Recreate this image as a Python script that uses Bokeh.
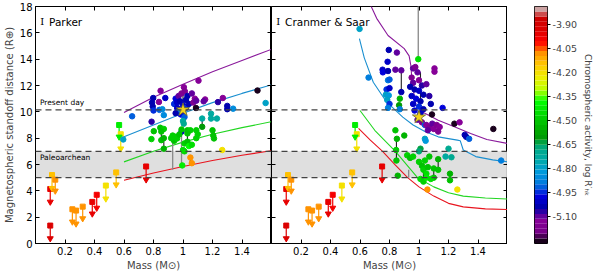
import numpy as np
from bokeh.plotting import figure
from bokeh.layouts import row
from bokeh.models import (ColumnDataSource, LinearColorMapper, FixedTicker, Span,
                          BoxAnnotation, Label, LinearAxis, PrintfTickFormatter, Range1d)
from bokeh.transform import transform
from bokeh.embed import file_html
from bokeh.resources import INLINE

# ---------------- data ----------------
x_ticks = [0.2, 0.4, 0.6, 0.8, 1.0, 1.2, 1.4]
y_ticks = [0, 2, 4, 6, 8, 10, 12, 14, 16, 18]
cbar_ticks = [-3.90, -4.05, -4.20, -4.35, -4.50, -4.65, -4.80, -4.95, -5.10]
act_low, act_high = -5.27, -3.79
present_day = 10.15
paleo_low, paleo_high = 5.0, 7.0

# Parker panel: stars (circles)
pk_mass = [0.848, 0.798, 0.837, 0.88, 0.79, 0.795, 0.655, 0.80, 0.84, 0.86, 0.787, 0.87, 0.94, 0.95, 0.96, 0.595,
           0.97, 0.98, 0.99, 1.0, 1.006, 1.013, 1.02, 1.03, 0.96, 1.0, 1.02, 0.985, 1.04, 0.97, 1.01, 0.95,
           1.105, 1.06, 1.08, 1.07, 1.09, 1.27, 1.15, 1.14, 1.237, 1.505, 1.30, 1.30, 1.34, 1.56, 1.19, 1.19,
           1.23, 1.088, 1.0, 1.005, 1.13, 1.13, 0.99, 0.802, 0.846, 0.87, 0.853, 0.853, 0.786, 0.93, 0.94, 0.95,
           0.87, 0.87, 0.92, 1.01, 1.0, 1.01, 1.03, 1.05, 1.09, 0.99, 0.96, 0.975, 1.03, 1.03, 1.09, 1.2,
           1.205, 1.21, 1.04, 1.06, 1.1, 0.995, 1.05, 1.06, 1.266]
pk_r = [11.6, 11.05, 10.75, 11.05, 10.7, 10.4, 9.66, 10.1, 10.15, 10.2, 9.25, 9.75, 10.6, 11.0, 10.7, 7.9,
        11.2, 10.8, 11.4, 10.5, 11.87, 11.55, 10.9, 11.2, 10.3, 10.0, 10.3, 9.8, 10.6, 10.0, 9.6, 9.9,
        12.37, 11.4, 11.0, 10.7, 10.85, 11.05, 10.94, 10.8, 10.74, 11.62, 10.45, 10.2, 10.24, 10.67, 9.86, 9.49,
        9.49, 10.29, 9.3, 9.1, 9.49, 8.86, 8.49, 8.53, 8.79, 8.7, 8.5, 7.85, 7.93, 8.2, 7.8, 8.1,
        8.0, 7.2, 8.0, 7.0, 7.1, 7.6, 8.6, 8.6, 8.6, 8.66, 7.98, 8.28, 8.36, 7.73, 8.0, 8.6,
        8.2, 7.98, 7.4, 7.5, 8.3, 5.93, 6.53, 6.1, 7.1]
pk_act = [-5.14, -5.04, -5.14, -5.0, -5.04, -5.04, -4.92, -4.95, -4.92, -4.85, -5.06, -4.85, -4.95, -4.97, -5.0, -4.8,
          -5.1, -5.04, -5.15, -5.0, -5.14, -5.15, -5.04, -5.04, -5.0, -5.0, -4.95, -4.98, -5.04, -4.85, -4.92, -5.04,
          -5.14, -5.1, -5.14, -5.15, -5.1, -5.14, -5.14, -5.1, -5.06, -5.24, -5.04, -5.04, -4.85, -4.8, -4.72, -4.72,
          -4.72, -5.24, -4.72, -4.7, -4.72, -4.6, -5.0, -4.5, -4.5, -4.48, -4.52, -4.52, -4.48, -4.47, -4.5, -4.48,
          -4.55, -4.55, -4.47, -4.47, -4.44, -4.48, -4.5, -4.47, -4.48, -4.5, -4.47, -4.5, -4.52, -4.5, -4.47, -4.52,
          -4.5, -4.5, -4.4, -4.44, -4.47, -4.42, -4.08, -4.08, -4.2]

# Cranmer & Saar panel: stars (circles)
cs_mass = [0.597, 0.658, 0.795, 0.85, 0.787, 0.753, 0.755, 0.79, 0.84, 0.88, 0.88, 0.79, 0.80, 0.78, 0.80, 0.775,
           0.795, 0.785, 0.80, 0.79, 0.87, 0.865, 0.87, 0.995, 0.96, 0.975, 0.99, 0.95, 0.96, 1.0, 1.02, 0.94,
           0.97, 1.0, 1.03, 0.95, 0.98, 1.01, 0.96, 1.0, 1.03, 0.97, 1.01, 0.99, 1.02, 1.04, 1.105, 1.105,
           1.05, 1.07, 1.08, 1.16, 1.088, 1.05, 1.07, 1.09, 1.10, 1.12, 1.14, 1.06, 1.13, 1.24, 1.275, 1.504,
           1.31, 1.32, 1.34, 1.04, 1.045, 1.2, 1.22, 1.18, 1.01, 1.0, 0.9, 0.84, 0.85, 0.847, 0.845, 0.856,
           0.92, 0.94, 0.96, 1.0, 1.02, 1.04, 1.03, 1.05, 1.06, 1.07, 1.01, 1.03, 1.05, 1.1, 1.1, 1.13,
           1.13, 1.08, 1.21, 1.21, 1.26, 1.057, 1.557]
cs_r = [16.3, 12.6, 14.7, 14.5, 13.8, 13.2, 13.0, 13.1, 13.2, 13.15, 11.5, 12.4, 12.45, 11.7, 11.8, 11.3,
        11.25, 10.9, 10.6, 10.3, 11.0, 10.5, 10.2, 14.0, 13.3, 13.4, 13.0, 12.6, 12.2, 12.4, 12.0, 11.9,
        11.7, 11.6, 11.3, 11.2, 11.0, 10.8, 10.6, 10.4, 10.2, 10.1, 9.9, 9.4, 9.2, 9.0, 13.3, 13.05,
        12.1, 11.2, 10.6, 10.3, 9.8, 9.0, 8.8, 9.1, 8.7, 9.0, 8.85, 8.6, 8.5, 9.1, 9.2, 8.7,
        8.25, 8.1, 7.95, 7.95, 7.8, 7.2, 6.55, 6.6, 7.2, 7.0, 8.2, 8.6, 7.95, 6.3, 7.1, 5.15,
        6.7, 6.5, 6.6, 6.2, 5.9, 6.3, 5.6, 5.3, 5.8, 6.6, 4.9, 4.7, 5.0, 5.7, 5.0, 6.4,
        5.6, 4.9, 5.3, 4.8, 4.1, 4.1, 6.3]
cs_act = [-4.8, -4.88, -5.04, -5.1, -5.0, -5.0, -4.98, -5.04, -5.1, -5.1, -5.04, -4.88, -4.92, -4.95, -5.0, -4.8,
          -4.83, -4.8, -4.95, -4.88, -4.55, -4.62, -4.88, -4.45, -5.1, -5.15, -5.1, -5.15, -5.1, -5.14, -5.06, -5.03,
          -5.04, -5.0, -5.04, -5.0, -4.98, -5.04, -5.0, -4.95, -5.04, -4.97, -5.0, -5.1, -5.15, -4.92, -5.14, -5.14,
          -5.1, -5.06, -5.04, -4.98, -5.24, -5.14, -5.15, -5.1, -5.14, -5.15, -5.14, -5.1, -5.15, -5.24, -5.14, -5.24,
          -5.04, -5.04, -4.92, -4.8, -4.82, -4.7, -4.7, -4.72, -4.65, -4.68, -4.55, -4.52, -4.55, -4.5, -4.48, -4.55,
          -4.47, -4.5, -4.47, -4.47, -4.5, -4.48, -4.47, -4.44, -4.5, -4.52, -4.44, -4.47, -4.42, -4.5, -4.52, -4.55,
          -4.52, -4.44, -4.55, -4.52, -4.2, -4.08, -4.88]

# upper limits (M dwarfs), same in both panels
ul_mass = [0.10, 0.10, 0.112, 0.134, 0.25, 0.275, 0.32, 0.385, 0.415, 0.477, 0.547, 0.567, 0.578, 0.75]
ul_top = [4.14, 1.36, 5.2, 4.85, 2.6, 2.5, 2.8, 3.16, 3.7, 4.4, 5.4, 9.0, 8.3, 5.85]
ul_bot = [3.16, 0.38, 4.2, 4.0, 1.65, 1.5, 1.9, 2.26, 2.7, 3.4, 4.47, 8.1, 7.2, 4.85]
ul_act = [-3.95, -3.93, -4.13, -4.08, -4.07, -4.08, -4.08, -3.95, -4.0, -4.22, -4.13, -4.42, -4.2, -3.95]

# vertical links between measurements of the same star
pk_link_m = [0.79, 0.853, 0.87, 1.03, 1.13, 1.21, 1.30, 1.05, 1.0]
pk_link_lo = [10.4, 7.85, 7.2, 7.73, 8.86, 7.98, 10.2, 6.1, 10.5]
pk_link_hi = [11.05, 8.5, 8.0, 8.36, 9.49, 8.6, 10.45, 6.53, 11.87]
pk_grey_m = [0.93, 0.99]
pk_grey_lo = [5.6, 5.93]
pk_grey_hi = [8.4, 8.49]
cs_link_m = [0.88, 0.847, 1.105, 1.03, 1.13, 1.21, 1.1, 1.01]
cs_link_lo = [11.5, 6.3, 13.05, 4.7, 5.6, 4.8, 5.0, 10.4]
cs_link_hi = [13.15, 7.95, 13.3, 5.6, 6.4, 5.3, 5.7, 13.0]
cs_grey_m = [0.995, 0.93]
cs_grey_lo = [14.0, 5.0]
cs_grey_hi = [19.0, 5.6]

# the Sun
sun_mass = [1.0]
pk_sun_r = [10.15]
cs_sun_r = [9.6]

# model curves
pk_curve_m = [0.6, 0.8, 1.0, 1.2, 1.4, 1.6]
pk_purple = [9.95, 11.1, 12.1, 13.05, 13.9, 14.75]
pk_blue = [8.1, 9.0, 9.9, 10.7, 11.4, 12.05]
pk_green = [6.2, 7.0, 7.7, 8.3, 8.8, 9.25]
pk_red = [4.8, 5.35, 5.85, 6.3, 6.7, 7.05]

cs_purple_m = [0.66, 0.676, 0.713, 0.79, 0.9, 0.933, 0.945, 0.955, 0.98, 1.02, 1.13, 1.24, 1.35, 1.46, 1.6]
cs_purple_r = [18.6, 18.0, 17.1, 15.8, 14.8, 14.25, 13.5, 12.0, 10.5, 10.0, 9.36, 8.86, 8.36, 7.9, 7.6]
cs_blue_m = [0.596, 0.629, 0.69, 0.78, 0.89, 0.96, 1.04, 1.13, 1.26, 1.28, 1.30, 1.385, 1.5, 1.6]
cs_blue_r = [15.56, 14.1, 12.25, 10.75, 9.6, 9.0, 8.5, 8.1, 7.85, 7.8, 7.1, 6.6, 6.35, 6.2]
cs_green_m = [0.6, 0.7, 0.84, 0.99, 1.1, 1.2, 1.3, 1.45, 1.6]
cs_green_r = [10.1, 8.6, 7.0, 5.0, 4.3, 3.85, 3.6, 3.45, 3.38]
cs_red_m = [0.59, 0.67, 0.753, 0.84, 0.923, 1.0, 1.1, 1.2, 1.3, 1.45, 1.6]
cs_red_r = [8.75, 7.85, 7.0, 5.95, 5.0, 4.3, 3.6, 3.05, 2.78, 2.63, 2.58]

curve_colors = {"purple": "#8a1a9b", "blue": "#1a8fd0", "green": "#22d622", "red": "#e8141e"}

# ---------------- colormap (nipy_spectral) ----------------
_pos = np.linspace(0, 1, 21)
_R = [0, .4667, .5333, 0, 0, 0, 0, 0, 0, 0, 0, 0, 0, .7333, .9333, 1, 1, 1, .8667, .8, .8]
_G = [0, 0, 0, 0, 0, .4667, .6, .6667, .6667, .6, .7333, .8667, 1, 1, .9333, .8, .6, 0, 0, 0, .8]
_B = [0, .5333, .6, .6667, .8667, .8667, .8667, .6667, .5333, 0, 0, 0, 0, 0, 0, 0, 0, 0, 0, 0, .8]
NC = 48
_s = (np.arange(NC) + 0.5) / NC
palette = ["#%02x%02x%02x" % (int(round(255 * np.interp(t, _pos, _R))),
                              int(round(255 * np.interp(t, _pos, _G))),
                              int(round(255 * np.interp(t, _pos, _B)))) for t in _s]
mapper = LinearColorMapper(palette=palette, low=act_low, high=act_high)

FONT = "DejaVu Sans"
FW, FH = 236, 237
MB_TOP, MB_BOT = 6, 26


def hide_labels(ax):
    ax.major_label_text_color = None
    ax.major_label_text_font_size = "1px"
    ax.major_label_standoff = 0


def style_axes(p, show_y_labels):
    for ax in p.xaxis + p.yaxis:
        ax.major_tick_in = 4
        ax.major_tick_out = 0
        ax.minor_tick_line_color = None
        ax.axis_line_color = "black"
        ax.major_label_text_font = FONT
        ax.major_label_text_font_size = "10px"
        ax.major_label_text_color = "black"
        ax.axis_label_text_font = FONT
        ax.axis_label_text_font_size = "10px"
        ax.axis_label_text_font_style = "normal"
        ax.major_label_standoff = 3
        ax.axis_label_standoff = 2
    p.xaxis.ticker = FixedTicker(ticks=x_ticks)
    p.yaxis.ticker = FixedTicker(ticks=y_ticks)
    p.xaxis.axis_label = "Mass (M\u2299)"
    if show_y_labels:
        p.yaxis.axis_label = "Magnetospheric standoff distance (R\u2295)"
    else:
        for ax in p.yaxis:
            hide_labels(ax)
    for loc, tk in (("right", y_ticks), ("above", x_ticks)):
        ax = LinearAxis(ticker=FixedTicker(ticks=tk), major_tick_in=4, major_tick_out=0,
                        axis_line_color=None, minor_tick_line_color=None)
        hide_labels(ax)
        p.add_layout(ax, loc)


def panel(name, cm, cr, ca, lm, llo, lhi, gm, glo, ghi, sun_r, curves, show_y, paleo_text):
    p = figure(frame_width=FW, frame_height=FH, x_range=Range1d(0, 1.6), y_range=Range1d(0, 18),
               toolbar_location=None, output_backend="svg",
               min_border_left=0, min_border_right=0,
               min_border_top=MB_TOP, min_border_bottom=MB_BOT)
    p.grid.visible = False
    p.outline_line_color = "black"
    p.background_fill_color = "white"
    style_axes(p, show_y)

    p.add_layout(BoxAnnotation(bottom=paleo_low, top=paleo_high, fill_color="#dcdcdc",
                               fill_alpha=0.9, line_color=None, level="underlay"))
    for yv in (paleo_low, paleo_high, present_day):
        p.add_layout(Span(location=yv, dimension="width", line_color="#444444",
                          line_dash="6 4", line_width=1.1))

    for col, (xs, ys) in curves.items():
        p.line(xs, ys, line_color=curve_colors[col], line_width=1.1)

    p.segment(x0=gm, y0=glo, x1=gm, y1=ghi, line_color="#888888", line_width=1.3)
    p.segment(x0=lm, y0=llo, x1=lm, y1=lhi, line_color="#222222", line_width=1.1)

    # upper limits
    ul = ColumnDataSource(dict(m=ul_mass, top=ul_top, bot=ul_bot, act=ul_act))
    p.segment(x0="m", y0="top", x1="m", y1="bot", source=ul,
              line_color=transform("act", mapper), line_width=1.2)
    p.scatter("m", "top", source=ul, marker="square", size=5,
              fill_color=transform("act", mapper), line_color=transform("act", mapper))
    p.scatter("m", "bot", source=ul, marker="inverted_triangle", size=6,
              fill_color=transform("act", mapper), line_color=transform("act", mapper))

    src = ColumnDataSource(dict(m=cm, r=cr, act=ca))
    p.scatter("m", "r", source=src, marker="circle", size=5.5,
              fill_color=transform("act", mapper), line_color=transform("act", mapper))

    p.scatter(sun_mass, sun_r, marker="star", size=14, fill_color="#f2d21b", line_color="#666633",
              line_width=0.8)

    p.add_layout(Label(x=0.045, y=16.85, text="I", text_font="DejaVu Serif", text_font_size="10px",
                       text_baseline="middle", text_align="center", text_color="black"))
    p.add_layout(Label(x=0.092, y=16.85, text=name, text_font=FONT, text_font_size="10.5px",
                       text_baseline="middle", text_color="black"))
    if paleo_text:
        p.add_layout(Label(x=0.03, y=present_day + 0.2, text="Present day", text_font=FONT,
                           text_font_size="7.5px", text_baseline="bottom", text_color="black"))
        p.add_layout(Label(x=0.03, y=6.5, text="Paleoarchean", text_font=FONT,
                           text_font_size="7.5px", text_baseline="middle", text_color="black"))
    return p


p1 = panel("Parker", pk_mass, pk_r, pk_act, pk_link_m, pk_link_lo, pk_link_hi,
           pk_grey_m, pk_grey_lo, pk_grey_hi, pk_sun_r,
           {"purple": (pk_curve_m, pk_purple), "blue": (pk_curve_m, pk_blue),
            "green": (pk_curve_m, pk_green), "red": (pk_curve_m, pk_red)}, True, True)
p2 = panel("Cranmer & Saar", cs_mass, cs_r, cs_act, cs_link_m, cs_link_lo, cs_link_hi,
           cs_grey_m, cs_grey_lo, cs_grey_hi, cs_sun_r,
           {"purple": (cs_purple_m, cs_purple_r), "blue": (cs_blue_m, cs_blue_r),
            "green": (cs_green_m, cs_green_r), "red": (cs_red_m, cs_red_r)}, False, False)

# colour bar as its own narrow figure
edges = np.linspace(act_low, act_high, NC + 1)
cb = figure(frame_width=13, frame_height=FH, x_range=Range1d(0, 1), y_range=Range1d(act_low, act_high),
            y_axis_location="right", toolbar_location=None, output_backend="svg",
            min_border_left=27, min_border_right=0, min_border_top=MB_TOP, min_border_bottom=MB_BOT)
cb.quad(left=0, right=1, bottom=edges[:-1], top=edges[1:], fill_color=palette, line_color=None)
cb.grid.visible = False
cb.xaxis.visible = False
cb.outline_line_color = "black"
ya = cb.yaxis[0]
ya.ticker = FixedTicker(ticks=cbar_ticks)
ya.formatter = PrintfTickFormatter(format="%.2f")
ya.major_tick_in = 0
ya.major_tick_out = 3
ya.minor_tick_line_color = None
ya.axis_line_color = None
ya.major_label_text_font = FONT
ya.major_label_text_font_size = "9.5px"
ya.major_label_standoff = 2
ya.axis_label = "Chromospheric activity, log R\u2032\u2095\u2096"
ya.axis_label_text_font = FONT
ya.axis_label_text_font_size = "9px"
ya.axis_label_text_font_style = "normal"
ya.axis_label_standoff = 3

layout = row(p1, p2, cb, spacing=0)
open("out.html", "w").write(file_html(layout, INLINE))
